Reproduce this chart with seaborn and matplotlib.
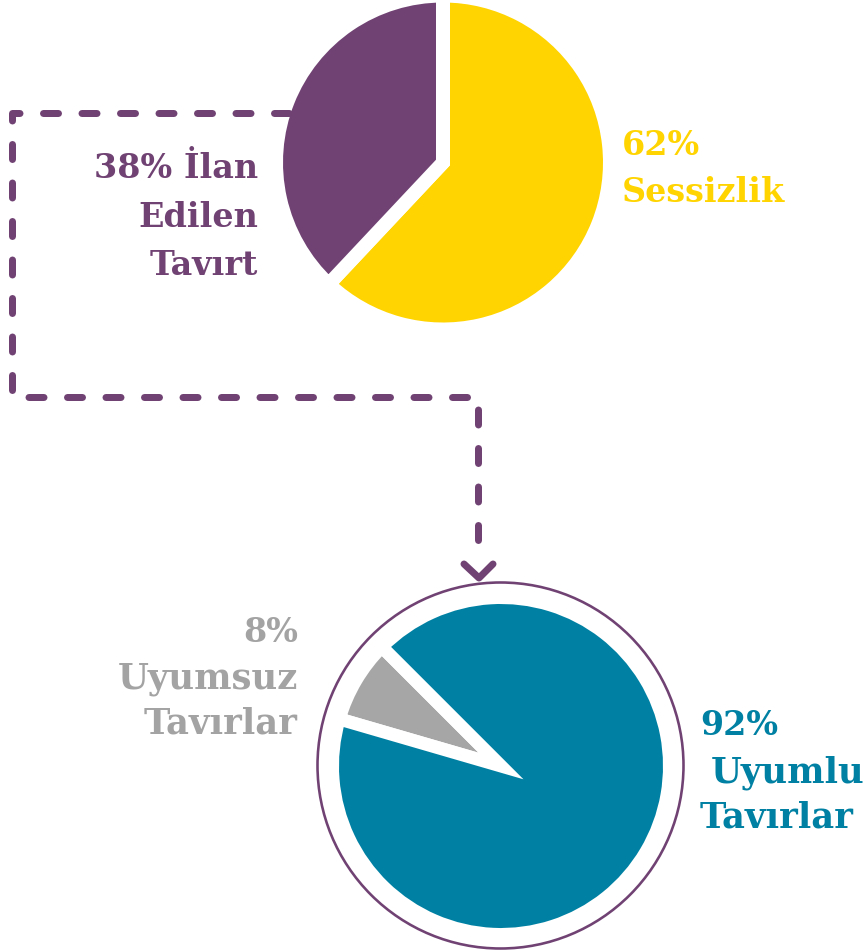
import matplotlib
matplotlib.use("Agg")
import matplotlib.pyplot as plt
import seaborn as sns
from matplotlib.patches import Circle

# ---------------- data ----------------
top_labels = ["Sessizlik", "İlan Edilen Tavırt"]
top_values = [62, 38]
bottom_labels = ["Uyumsuz Tavırlar", "Uyumlu Tavırlar"]
bottom_values = [8, 92]

PURPLE = "#704273"
YELLOW = "#FFD400"
TEAL = "#0081A3"
GREY = "#A6A6A6"
GREY_TXT = "#A3A3A3"

sns.set_theme(style="white")
plt.rcParams["font.family"] = ["DejaVu Serif", "DejaVu Sans"]
plt.rcParams["lines.scale_dashes"] = False

W, H = 867, 950
fig = plt.figure(figsize=(W / 100, H / 100), dpi=100)
ax = fig.add_axes([0, 0, 1, 1])

PX = 72 / 100  # points per pixel


def fy(y):
    return H - y


# ---------------- top pie ----------------
gap_top = 14
R_top = 160
ax.pie(top_values, colors=[YELLOW, PURPLE], startangle=90, counterclock=False,
       radius=R_top + gap_top / 2, center=(443, fy(162.5)),
       wedgeprops=dict(edgecolor="white", linewidth=gap_top * PX, joinstyle="miter"))

# ---------------- bottom pie ----------------
gap_bot = 13
R_bot = 162
ax.pie(bottom_values, colors=[GREY, TEAL], startangle=135, counterclock=True,
       radius=R_bot + gap_bot / 2, center=(501, fy(766)),
       wedgeprops=dict(edgecolor="white", linewidth=gap_bot * PX, joinstyle="miter"))

ax.add_patch(Circle((500.5, fy(765.5)), 183, fill=False, edgecolor=PURPLE,
                    linewidth=2.6 * PX, zorder=3))

# ---------------- dashed connector ----------------
lw = 7 * PX
xs = [293, 12, 12, 478, 478]
ys = [113, 113, 397, 397, 562]
ax.plot(xs, [fy(v) for v in ys], color=PURPLE, lw=lw,
        linestyle=(34.5 * PX, (15 * PX, 23.5 * PX)),
        dash_capstyle="round", dash_joinstyle="round", zorder=5)
ax.plot([464, 479, 493], [fy(564), fy(578), fy(564)], color=PURPLE, lw=lw,
        solid_capstyle="round", solid_joinstyle="round", zorder=5)

# ---------------- labels ----------------
fs = 24
kw = dict(fontsize=fs, fontweight="bold", va="baseline")
kw2 = dict(fontsize=25.5, fontweight="bold", va="baseline")
ax.text(622, fy(155), f"{top_values[0]}%", color=YELLOW, ha="left", **kw)
ax.text(622, fy(202), "Sessizlik", color=YELLOW, ha="left", **kw)

ax.text(258, fy(178), f"{top_values[1]}% İlan", color=PURPLE, ha="right", **kw)
ax.text(258, fy(227), "Edilen", color=PURPLE, ha="right", **kw)
ax.text(258, fy(275), "Tavırt", color=PURPLE, ha="right", **kw)

ax.text(298, fy(642), f"{bottom_values[0]}%", color=GREY_TXT, ha="right", **kw)
ax.text(298, fy(688), "Uyumsuz", color=GREY_TXT, ha="right", **kw2)
ax.text(298, fy(733), "Tavırlar", color=GREY_TXT, ha="right", **kw2)

ax.text(700, fy(735), f"{bottom_values[1]}%", color=TEAL, ha="left", **kw)
ax.text(711, fy(782), "Uyumlu", color=TEAL, ha="left", **kw2)
ax.text(700, fy(827), "Tavırlar", color=TEAL, ha="left", **kw2)

ax.set_xlim(0, W)
ax.set_ylim(0, H)
ax.set_aspect("auto")
ax.axis("off")

fig.savefig("out.png", dpi=100, facecolor="white")
